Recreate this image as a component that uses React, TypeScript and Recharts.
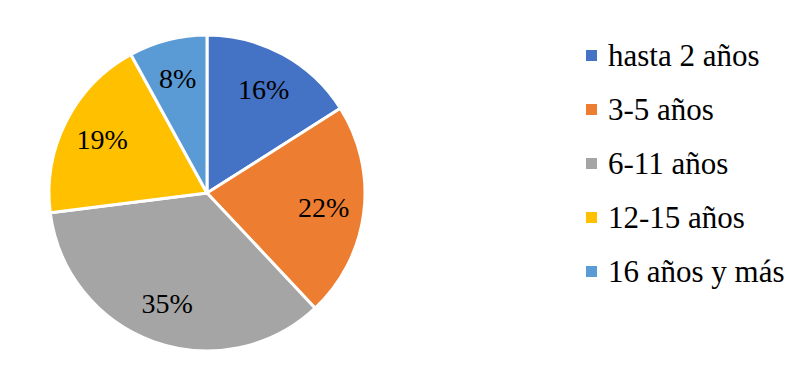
import React from "react";
import { PieChart, Pie, Cell, Legend } from "recharts";

const categories = ["hasta 2 años", "3-5 años", "6-11 años", "12-15 años", "16 años y más"];
const values = [16, 22, 35, 19, 8];
const colors = ["#4472C4", "#ED7D31", "#A5A5A5", "#FFC000", "#5B9BD5"];

const data = categories.map((name, i) => ({ name, value: values[i] }));
const FONT = "Liberation Serif, DejaVu Serif";
const RAD = Math.PI / 180;

const renderLabel = (props: any) => {
  const { cx, cy, midAngle, outerRadius, value } = props;
  const r = outerRadius * 0.745;
  const x = cx + r * Math.cos(-midAngle * RAD);
  const y = cy + r * Math.sin(-midAngle * RAD);
  return (
    <text x={x} y={y} textAnchor="middle" dominantBaseline="central" fill="#000" fontSize={28} style={{ fontFamily: FONT }}>
      {`${value}%`}
    </text>
  );
};

const renderLegend = () => (
  <div style={{ fontFamily: FONT, fontSize: 31, color: "#000" }}>
    {categories.map((c, i) => (
      <div key={c} style={{ height: 54, display: "flex", alignItems: "center" }}>
        <span style={{ width: 11, height: 11, background: colors[i], display: "inline-block", marginRight: 11, flexShrink: 0 }} />
        <span style={{ lineHeight: "31px", whiteSpace: "nowrap" }}>{c}</span>
      </div>
    ))}
  </div>
);

export default function App() {
  return (
    <div style={{ position: "absolute", left: 0, top: 0, width: 809, height: 378, background: "#fff" }}>
      <PieChart width={809} height={378}>
        <Pie
          data={data}
          dataKey="value"
          nameKey="name"
          cx={202}
          cy={188}
          outerRadius={158}
          startAngle={90}
          endAngle={-270}
          stroke="#fff"
          strokeWidth={3}
          label={renderLabel}
          labelLine={false}
          isAnimationActive={false}
        >
          {data.map((d, i) => (
            <Cell key={d.name} fill={colors[i]} />
          ))}
        </Pie>
        <Legend
          layout="vertical"
          content={renderLegend}
          wrapperStyle={{ left: 586, top: 28, width: 223 }}
        />
      </PieChart>
    </div>
  );
}
